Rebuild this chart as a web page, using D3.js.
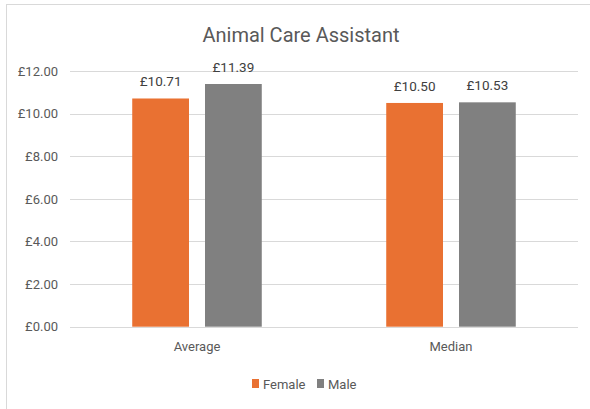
<!DOCTYPE html>
<meta charset="utf-8">
<style>
    body { margin: 0; background: #fff; }
    text { font-family: Roboto, "Liberation Sans", sans-serif; }
    .grid line { stroke: #d9d9d9; stroke-width: 1; }
</style>
<svg width="590" height="409"></svg>
<script src="https://cdn.jsdelivr.net/npm/d3@7"></script>
<script>

    // chart data
    var categories = ["Average", "Median"];
    var seriesNames = ["Female", "Male"];
    var femaleValues = [10.71, 10.50];
    var maleValues = [11.39, 10.53];
    var yTicks = [0, 2, 4, 6, 8, 10, 12];
    var colors = ["#E97132", "#808080"];

    var svg = d3.select("svg");

    // chart border (runs off the right and bottom of the picture)
    svg.append("rect")
        .attr("x", 6.5).attr("y", 4.5)
        .attr("width", 640).attr("height", 440)
        .attr("fill", "#fff")
        .attr("stroke", "#d9d9d9");

    var plotLeft = 70, plotRight = 578, plotTop = 71, plotBottom = 326.7;

    var x0 = d3.scaleBand()
        .domain(categories)
        .range([plotLeft, plotRight])
        .paddingInner(0.49)
        .paddingOuter(0.245);

    var x1 = d3.scaleBand()
        .domain(seriesNames)
        .range([0, x0.bandwidth()])
        .paddingInner(0.22);

    var y = d3.scaleLinear()
        .domain([0, 12])
        .range([plotBottom, plotTop]);

    // gridlines
    svg.append("g")
        .attr("class", "grid")
        .selectAll("line")
        .data(yTicks)
        .enter()
        .append("line")
        .attr("x1", plotLeft).attr("x2", plotRight)
        .attr("y1", function (d) { return Math.round(y(d)) + 0.5; })
        .attr("y2", function (d) { return Math.round(y(d)) + 0.5; });

    // y axis labels
    var yAxis = d3.axisLeft(y)
        .tickValues(yTicks)
        .tickSize(0)
        .tickPadding(12)
        .tickFormat(function (d) { return "£" + d3.format(".2f")(d); });

    var ya = svg.append("g")
        .attr("transform", "translate(" + plotLeft + ",0)")
        .call(yAxis);
    ya.select(".domain").remove();
    ya.selectAll("text")
        .attr("fill", "#595959")
        .style("font-size", "13px")
        .style("font-family", "Roboto, sans-serif");

    // x axis labels
    var xAxis = d3.axisBottom(x0).tickSize(0).tickPadding(15);
    var xa = svg.append("g")
        .attr("transform", "translate(0," + plotBottom + ")")
        .call(xAxis);
    xa.select(".domain").remove();
    xa.selectAll("text")
        .attr("fill", "#595959")
        .style("font-size", "13px")
        .style("font-family", "Roboto, sans-serif");

    var rows = categories.map(function (c, i) {
        return {category: c, values: [
            {name: "Female", value: femaleValues[i], color: colors[0]},
            {name: "Male", value: maleValues[i], color: colors[1]}
        ]};
    });

    var group = svg.append("g")
        .selectAll("g")
        .data(rows)
        .enter()
        .append("g")
        .attr("transform", function (d) { return "translate(" + x0(d.category) + ",0)"; });

    group.selectAll("rect")
        .data(function (d) { return d.values; })
        .enter()
        .append("rect")
        .attr("x", function (d) { return x1(d.name); })
        .attr("width", x1.bandwidth())
        .attr("y", function (d) { return y(d.value); })
        .attr("height", function (d) { return y(0) - y(d.value); })
        .attr("fill", function (d) { return d.color; });

    group.selectAll("text")
        .data(function (d) { return d.values; })
        .enter()
        .append("text")
        .attr("x", function (d) { return x1(d.name) + x1.bandwidth() / 2; })
        .attr("y", function (d) { return y(d.value) - 12; })
        .attr("text-anchor", "middle")
        .attr("fill", "#404040")
        .style("font-size", "13.5px")
        .text(function (d) { return "£" + d3.format(".2f")(d.value); });

    // title
    svg.append("text")
        .attr("x", 301)
        .attr("y", 42)
        .attr("text-anchor", "middle")
        .attr("fill", "#595959")
        .style("font-size", "20px")
        .text("Animal Care Assistant");

    // legend
    var legend = svg.append("g")
        .selectAll("g")
        .data(seriesNames)
        .enter()
        .append("g")
        .attr("transform", function (d, i) { return "translate(" + (252 + i * 65) + ",379)"; });

    legend.append("rect")
        .attr("width", 7).attr("height", 9)
        .attr("fill", function (d, i) { return colors[i]; });

    legend.append("text")
        .attr("x", 11)
        .attr("y", 9.5)
        .attr("fill", "#595959")
        .style("font-size", "13px")
        .text(function (d) { return d; });

</script>
